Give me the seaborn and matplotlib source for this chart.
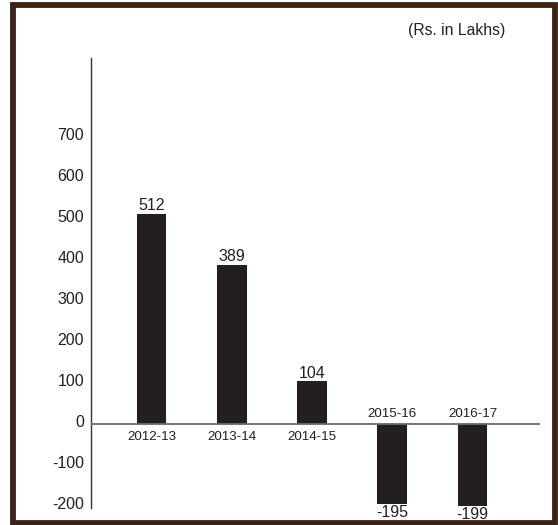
import matplotlib
matplotlib.use('Agg')
import matplotlib.pyplot as plt
import matplotlib.transforms as mtransforms
from matplotlib.patches import Rectangle
import seaborn as sns
import pandas as pd

# Data
years = ['2012-13', '2013-14', '2014-15', '2015-16', '2016-17']
profit = [512, 389, 104, -195, -199]
yticks = [-200, -100, 0, 100, 200, 300, 400, 500, 600, 700]

df = pd.DataFrame({'year': years, 'profit': profit})

sns.set_style('white')
plt.rcParams['font.family'] = ['Liberation Sans', 'DejaVu Sans']

bar_color = '#231f20'

fig = plt.figure(figsize=(5.58, 5.25), dpi=100)
ax = fig.add_axes([91 / 558, 1 - 508 / 525, 449 / 558, 450 / 525])

sns.barplot(data=df, x='year', y='profit', order=years, color=bar_color,
            width=0.37, saturation=1, linewidth=0, ax=ax)

ax.set_xlim(-0.754, 4.841)
ax.set_ylim(-205, 893)

# zero line
ax.axhline(0, color='#6a6a6a', lw=1.3, zorder=3)

# axis cosmetics
for s in ['top', 'right', 'bottom']:
    ax.spines[s].set_visible(False)
ax.spines['left'].set_color('#333333')
ax.spines['left'].set_linewidth(1.0)
ax.set_xticks([])
ax.set_yticks(yticks)
ax.set_yticklabels([str(t) for t in yticks])
ax.tick_params(axis='y', length=0, pad=5, labelsize=11.5, labelcolor=bar_color)
offset = mtransforms.ScaledTranslation(0, 3 / 100, fig.dpi_scale_trans)
for lbl in ax.get_yticklabels():
    lbl.set_transform(lbl.get_transform() + offset)
ax.set_xlabel('')
ax.set_ylabel('')

# value labels and category labels
for i, (yr, v) in enumerate(zip(years, profit)):
    if v >= 0:
        ax.annotate(str(v), xy=(i, v), xytext=(0, 0.5), textcoords='offset points',
                    ha='center', va='bottom', fontsize=11.5, color=bar_color)
        ax.annotate(yr, xy=(i, 0), xytext=(0, -9.4), textcoords='offset points',
                    ha='center', va='center', fontsize=9.6, color=bar_color)
    else:
        ax.annotate(str(v), xy=(i, v), xytext=(0, -1), textcoords='offset points',
                    ha='center', va='top', fontsize=11.5, color=bar_color)
        ax.annotate(yr, xy=(i, 0), xytext=(0, 7.4), textcoords='offset points',
                    ha='center', va='center', fontsize=9.6, color=bar_color)

fig.text(505 / 558, 1 - 30 / 525, '(Rs. in Lakhs)', ha='right', va='center',
         fontsize=11.3, color=bar_color)

# brown frame around the picture
frame = Rectangle((13 / 558, 2 / 525), 542 / 558, 518.5 / 525,
                  transform=fig.transFigure, fill=False,
                  edgecolor='#3d2316', linewidth=4.2)
fig.patches.append(frame)

fig.savefig('out.png', dpi=100)
